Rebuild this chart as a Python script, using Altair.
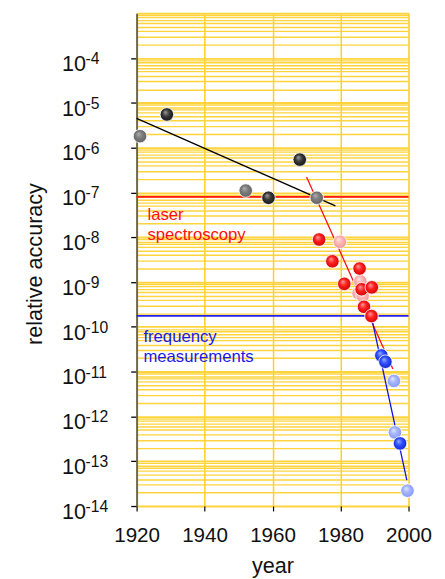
import altair as alt
import pandas as pd

# ---- data ----
gray_year = [1921.0, 1952.1, 1973.0]
gray_acc = [1.8e-6, 1.1e-7, 7.6e-8]
dark_year = [1928.9, 1958.8, 1968.0]
dark_acc = [5.5e-6, 7.6e-8, 5.4e-7]
pink_year = [1979.8, 1985.8, 1985.3, 1986.5]
pink_acc = [7.9e-9, 1.04e-9, 5.6e-10, 4.9e-10]
red_year = [1973.7, 1977.6, 1985.6, 1981.1, 1986.2, 1989.2, 1986.9, 1989.1]
red_acc = [8.9e-9, 2.9e-9, 2.0e-9, 9.1e-10, 6.9e-10, 7.6e-10, 2.8e-10, 1.74e-10]
lblue_year = [1995.7, 1996.0, 1999.7]
lblue_acc = [6.2e-12, 4.4e-13, 2.2e-14]
blue_year = [1992.0, 1993.2, 1997.5]
blue_acc = [2.3e-11, 1.66e-11, 2.5e-13]

fit_black_year = [1920.0, 1978.5]
fit_black_acc = [4.5e-6, 5.0e-8]
fit_red_year = [1970.0, 1995.4]
fit_red_acc = [2.2e-7, 1.15e-11]
fit_blue_year = [1989.3, 1999.5]
fit_blue_acc = [1.4e-10, 3.8e-14]

laser_level = [8.0e-8]
freq_level = [1.75e-10]

laser_text = ["laser\nspectroscopy"]
laser_year = [1923.2]
laser_acc = [2.43e-8]
freq_text = ["frequency\nmeasurements"]
freq_year = [1922.0]
freq_acc = [4.5e-11]

x_ticks = [1920, 1940, 1960, 1980, 2000]
exponents = list(range(-14, -3))
grid_values = [m * 10.0 ** k for k in range(-14, -3) for m in range(1, 10)] + [1e-3]

W, H = 277, 502
FONT = "Liberation Sans"
RED = "#ff1010"
BLUE = "#1a1ae6"

xscale = alt.Scale(domain=[1920, 2000], nice=False, zero=False)
yscale = alt.Scale(type="log", domain=[1e-14, 1e-3], nice=False)

xaxis = alt.Axis(values=x_ticks, format="d", grid=True, gridColor="#FFD01E", gridWidth=1.5,
                 domain=False, ticks=True, tickSize=5, tickColor="#000000", tickWidth=1.2,
                 labelFontSize=21, labelColor="#111111", labelPadding=14, labelFont=FONT,
                 labelOverlap=False, labelFlush=False, labelBound=False,
                 title="year", titleFontSize=22, titleFontWeight="normal", titleFont=FONT,
                 titleColor="#111111", titleY=68, titleBaseline="alphabetic")


def X():
    return alt.X("year:Q", scale=xscale, axis=xaxis)


def Y(axis=None):
    return alt.Y("acc:Q", scale=yscale, axis=axis)


def ball(hi, mid, edge):
    return {"gradient": "radial", "x1": 0.38, "y1": 0.32, "r1": 0.0,
            "x2": 0.5, "y2": 0.5, "r2": 0.55,
            "stops": [{"offset": 0.0, "color": hi},
                      {"offset": 0.45, "color": mid},
                      {"offset": 1.0, "color": edge}]}


def points(years, accs, grad):
    df = pd.DataFrame({"year": years, "acc": accs})
    return alt.Chart(df).mark_point(
        shape="circle", filled=True, size=190, fill=grad, opacity=1,
        stroke="#ffffff", strokeWidth=1, strokeOpacity=0.85
    ).encode(x=X(), y=Y())


def fit(years, accs, color):
    df = pd.DataFrame({"year": years, "acc": accs})
    return alt.Chart(df).mark_line(color=color, strokeWidth=1.3).encode(x=X(), y=Y())


def level(vals, color, axis=None):
    df = pd.DataFrame({"acc": vals})
    return alt.Chart(df).mark_rule(color=color, strokeWidth=1.8).encode(y=Y(axis))


def label(texts, years, accs, color):
    df = pd.DataFrame({"t": texts, "year": years, "acc": accs})
    return alt.Chart(df).mark_text(align="left", baseline="alphabetic", fontSize=17,
                                   font=FONT, lineBreak="\n", lineHeight=20, color=color).encode(
        x=X(), y=Y(), text="t:N")


# horizontal grid (minor log lines) carried by an axis
grid_axis = alt.Axis(orient="left", values=grid_values, grid=True, labels=False, ticks=False,
                     domain=False, title=None, gridColor="#FFD43C", zindex=0,
                     gridWidth={"condition": {"test": "abs(log(datum.value)/LN10 - round(log(datum.value)/LN10)) < 0.01", "value": 2.0}, "value": 1.4})

hl_laser = level(laser_level, "#ff1a1a", grid_axis)
hl_freq = level(freq_level, "#2020f0")

lines = [fit(fit_black_year, fit_black_acc, "#000000"),
         fit(fit_red_year, fit_red_acc, RED),
         fit(fit_blue_year, fit_blue_acc, "#1010e0")]

balls = [
    points(gray_year, gray_acc, ball("#b0b0b0", "#7c7c7c", "#606060")),
    points(dark_year, dark_acc, ball("#a0a0a0", "#3a3a3a", "#101010")),
    points(pink_year, pink_acc, ball("#ffe6e6", "#ffb4b4", "#f09494")),
    points(red_year, red_acc, ball("#ffa0a0", "#ff2020", "#cc0000")),
    points(lblue_year, lblue_acc, ball("#e4e9ff", "#a4b4ff", "#8298f0")),
    points(blue_year, blue_acc, ball("#9ab0ff", "#3050ff", "#1020cc")),
]

labels = [label(laser_text, laser_year, laser_acc, RED),
          label(freq_text, freq_year, freq_acc, BLUE)]

# y tick labels as 10 with superscript exponent
exp_df = pd.DataFrame({"acc": [10.0 ** e for e in exponents],
                       "base": ["10"] * len(exponents),
                       "ex": [str(e) for e in exponents]})
tick_axis = alt.Axis(orient="left", values=[10.0 ** e for e in exponents], grid=False,
                     labels=False, ticks=True, tickSize=6, tickColor="#000000", tickWidth=1.3,
                     domain=True, domainColor="#6e6850", domainWidth=2,
                     title="relative accuracy", titleFontSize=22, titleFont=FONT,
                     titleFontWeight="normal", titleColor="#111111", titleAngle=-90,
                     titleX=-104, titleY=H / 2 + 4, titleAlign="center", titleBaseline="middle")
base_lbl = alt.Chart(exp_df).mark_text(align="left", baseline="alphabetic", fontSize=22,
                                       font=FONT, color="#111111", dy=13).encode(
    y=Y(tick_axis), x=alt.value(-76), text="base:N")
exp_lbl = alt.Chart(exp_df).mark_text(align="left", baseline="alphabetic", fontSize=16,
                                      font=FONT, color="#111111", dy=6).encode(
    y=Y(), x=alt.value(-52), text="ex:N")

chart = alt.layer(hl_laser, hl_freq, *lines, *balls, *labels, base_lbl, exp_lbl).resolve_axis(
    y="independent"
).properties(
    width=W, height=H,
    autosize=alt.AutoSizeParams(type="none"),
    padding={"left": 131, "top": 0, "right": 29, "bottom": 69},
).configure_view(fill="#FFFBC4", strokeWidth=0).configure(font=FONT)

chart.save("out.html", embed_options={"renderer": "svg", "actions": False})
